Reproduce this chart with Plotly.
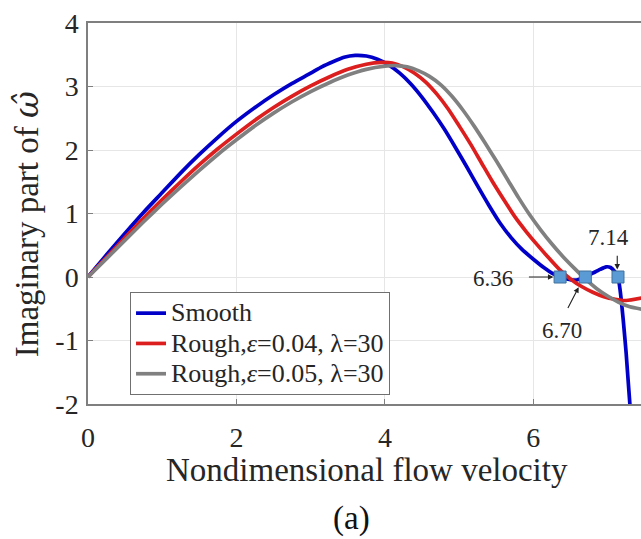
import plotly.graph_objects as go

# ---- data ----
smooth_x = [0, 0.25, 0.5, 0.75, 1.0, 1.25, 1.5, 1.75, 2.0, 2.25, 2.5, 2.75, 3.0, 3.15, 3.3, 3.45,
            3.6, 3.75, 3.9, 4.05, 4.2, 4.35, 4.5, 4.65, 4.8, 4.95, 5.1, 5.25, 5.4, 5.55, 5.7, 5.85,
            6.0, 6.15, 6.25, 6.36, 6.45, 6.55, 6.63, 6.7, 6.8, 6.9, 6.98, 7.04, 7.1, 7.14, 7.17,
            7.21, 7.25, 7.3, 7.34]
smooth_y = [0, 0.35, 0.69, 1.02, 1.33, 1.64, 1.93, 2.2, 2.45, 2.67, 2.87, 3.05, 3.21, 3.31, 3.39, 3.46,
            3.49, 3.48, 3.43, 3.34, 3.21, 3.04, 2.83, 2.59, 2.33, 2.04, 1.74, 1.43, 1.13, 0.85, 0.62, 0.43,
            0.28, 0.14, 0.06, 0.0, -0.03, -0.05, -0.03, 0.0, 0.06, 0.12, 0.16, 0.15, 0.08, 0.0, -0.22,
            -0.67, -1.2, -2.0, -2.5]

rough04_x = [0, 0.25, 0.5, 0.75, 1.0, 1.25, 1.5, 1.75, 2.0, 2.25, 2.5, 2.75, 3.0, 3.25, 3.5, 3.75,
             3.95, 4.1, 4.25, 4.4, 4.55, 4.7, 4.85, 5.0, 5.15, 5.3, 5.45, 5.6, 5.75, 5.9, 6.05, 6.2,
             6.35, 6.5, 6.65, 6.8, 6.95, 7.1, 7.25, 7.47]
rough04_y = [0, 0.31, 0.62, 0.93, 1.22, 1.5, 1.77, 2.02, 2.25, 2.47, 2.67, 2.85, 3.01, 3.15, 3.27, 3.35,
             3.38, 3.37, 3.31, 3.21, 3.07, 2.88, 2.65, 2.38, 2.1, 1.8, 1.5, 1.22, 0.95, 0.72, 0.51, 0.31,
             0.12, -0.03, -0.15, -0.24, -0.31, -0.35, -0.37, -0.33]

rough05_x = [0, 0.25, 0.5, 0.75, 1.0, 1.25, 1.5, 1.75, 2.0, 2.25, 2.5, 2.75, 3.0, 3.25, 3.5, 3.75,
             4.0, 4.15, 4.3, 4.45, 4.6, 4.75, 4.9, 5.05, 5.2, 5.35, 5.5, 5.65, 5.8, 5.95, 6.1, 6.25,
             6.4, 6.55, 6.7, 6.85, 7.0, 7.15, 7.3, 7.47]
rough05_y = [0, 0.29, 0.58, 0.87, 1.15, 1.42, 1.68, 1.93, 2.16, 2.38, 2.58, 2.76, 2.92, 3.06, 3.18, 3.27,
             3.32, 3.33, 3.31, 3.25, 3.16, 3.03, 2.85, 2.63, 2.38, 2.11, 1.83, 1.54, 1.25, 0.98, 0.74, 0.52,
             0.32, 0.14, -0.03, -0.18, -0.3, -0.4, -0.47, -0.51]

crit_x = [6.36, 6.70, 7.14]
crit_y = [0, 0, 0]
crit_labels = ["6.36", "6.70", "7.14"]

x_ticks = [0, 2, 4, 6]
y_ticks = [-2, -1, 0, 1, 2, 3, 4]

FONT = "Liberation Serif, Times New Roman, serif"
TXT = "#262626"
LEG = '<span style="font-size:26px">{}</span>'

fig = go.Figure()
fig.add_trace(go.Scatter(x=smooth_x, y=smooth_y, mode="lines", name=LEG.format("Smooth"),
                         line=dict(color="#0000C8", width=3.7, shape="spline", smoothing=0.6)))
fig.add_trace(go.Scatter(x=rough04_x, y=rough04_y, mode="lines",
                         name=LEG.format("Rough,<i>ε</i>=0.04, λ=30"),
                         line=dict(color="#DC1E1E", width=3.7, shape="spline", smoothing=0.6)))
fig.add_trace(go.Scatter(x=rough05_x, y=rough05_y, mode="lines",
                         name=LEG.format("Rough,<i>ε</i>=0.05, λ=30"),
                         line=dict(color="#808080", width=3.7, shape="spline", smoothing=0.6)))
fig.add_trace(go.Scatter(x=crit_x, y=crit_y, mode="markers", showlegend=False,
                         marker=dict(symbol="square", size=12, color="#5B9BD5",
                                     line=dict(color="#41719C", width=1))))

# annotation arrows (tail -> head, in data coordinates)
arrows = [((5.92, 0.0), (6.27, 0.0)),
          ((6.455, -0.51), (6.61, -0.16)),
          ((7.13, 0.36), (7.13, 0.12))]
for (tx, ty), (hx, hy) in arrows:
    fig.add_annotation(x=hx, y=hy, ax=tx, ay=ty, xref="x", yref="y", axref="x", ayref="y",
                       text="", showarrow=True, arrowhead=2, arrowsize=1, arrowwidth=1.1,
                       arrowcolor="#222222")
label_pos = [(5.46, -0.02), (6.39, -0.84), (7.01, 0.62)]
for lab, (lx, ly) in zip(crit_labels, label_pos):
    fig.add_annotation(x=lx, y=ly, xref="x", yref="y", text=lab, showarrow=False,
                       xanchor="center", yanchor="middle",
                       font=dict(family=FONT, size=23, color=TXT))

# titles
fig.add_annotation(x=-0.112, y=0.472, xref="paper", yref="paper", textangle=-90,
                   xanchor="center", yanchor="middle",
                   text='Imaginary part of <span style="font-family:DejaVu Serif"><i>ω̂</i></span>',
                   showarrow=False, font=dict(family=FONT, size=33, color=TXT))
fig.add_annotation(x=0.5045, y=-0.173, xref="paper", yref="paper",
                   xanchor="center", yanchor="middle",
                   text="Nondimensional flow velocity", showarrow=False,
                   font=dict(family=FONT, size=33, color=TXT))
fig.add_annotation(x=0.4756, y=-0.301, xref="paper", yref="paper",
                   xanchor="center", yanchor="middle",
                   text="(a)", showarrow=False,
                   font=dict(family=FONT, size=33, color="#111111"))

fig.update_layout(
    width=641, height=539,
    margin=dict(l=88, r=0, t=23, b=135),
    paper_bgcolor="white", plot_bgcolor="white",
    font=dict(family=FONT, color=TXT),
    legend=dict(x=0.076, y=0.294, xanchor="left", yanchor="top",
                bgcolor="white", bordercolor="#707070", borderwidth=1,
                font=dict(family=FONT, size=21, color=TXT),
                itemwidth=30, tracegroupgap=0),
    showlegend=True,
)
fig.update_xaxes(range=[0, 7.45], tickvals=x_ticks, ticktext=[str(v) for v in x_ticks],
                 showgrid=True, gridcolor="#E6E6E6", gridwidth=1, zeroline=False,
                 showline=True, linecolor="#7F7F7F", linewidth=1.5, mirror=True,
                 ticks="inside", ticklen=5, tickcolor="#7F7F7F",
                 tickfont=dict(family=FONT, size=28, color=TXT), ticklabelstandoff=8)
fig.update_yaxes(range=[-2, 4], tickvals=y_ticks, ticktext=[str(v) for v in y_ticks],
                 showgrid=True, gridcolor="#E6E6E6", gridwidth=1, zeroline=False,
                 showline=True, linecolor="#7F7F7F", linewidth=1.5, mirror=False,
                 ticks="inside", ticklen=5, tickcolor="#7F7F7F",
                 tickfont=dict(family=FONT, size=28, color=TXT), ticklabelstandoff=2)

fig.write_html("out.html")
